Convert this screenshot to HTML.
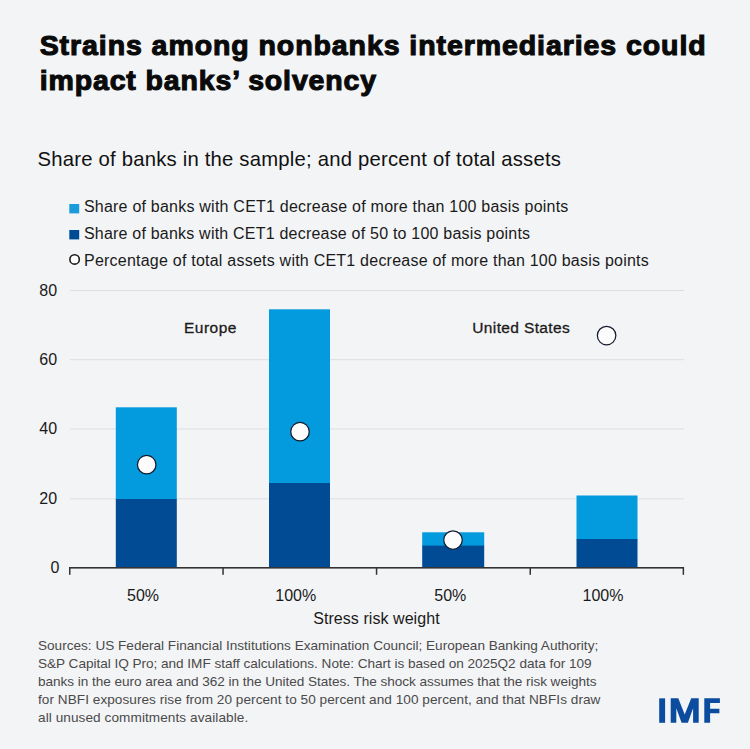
<!DOCTYPE html>
<html>
<head>
<meta charset="utf-8">
<title>IMF Chart</title>
<style>
html,body{margin:0;padding:0;}
body{width:750px;height:749px;background:#f3f4f6;position:relative;overflow:hidden;font-family:"Liberation Sans",sans-serif;color:#111;}
.t{position:absolute;white-space:nowrap;transform-origin:0 0;line-height:1;}
.title{font-weight:bold;font-size:28.5px;color:#0a0a0a;left:39.7px;-webkit-text-stroke:1.1px #0a0a0a;}
.sub{font-size:20.3px;left:37.5px;top:149px;color:#111;}
.leg{font-size:16px;left:83.9px;color:#1a1a1a;}
.ax{font-size:16px;color:#1a1a1a;}
.src{font-size:13.6px;left:38px;color:#4a4a4a;}
</style>
</head>
<body>
<!-- shapes -->
<svg id="shapes" style="position:absolute;left:0;top:0;" width="750" height="749" viewBox="0 0 750 749">
<!-- legend markers -->
<rect x="69.3" y="204" width="9.9" height="9.4" fill="#1a9cdc"/>
<rect x="69.3" y="230" width="9.9" height="9.4" fill="#014b95"/>
<circle cx="74.6" cy="259.4" r="4.7" fill="#fff" stroke="#1a1a1a" stroke-width="1.6"/>
<!-- gridlines -->
<g fill="#dcdee2">
<rect x="70" y="290" width="614" height="1"/>
<rect x="70" y="359.2" width="614" height="1"/>
<rect x="70" y="428.5" width="614" height="1"/>
<rect x="70" y="498.3" width="614" height="1"/>
</g>
<!-- bars -->
<g fill="#039ade">
<rect x="115.8" y="407.3" width="61" height="92"/>
<rect x="269" y="309.3" width="61" height="174"/>
<rect x="422.2" y="532.3" width="62" height="14"/>
<rect x="576.5" y="495.5" width="61" height="44"/>
</g>
<g fill="#014b95">
<rect x="115.8" y="499" width="61" height="69"/>
<rect x="269" y="483" width="61" height="85"/>
<rect x="422.2" y="545.6" width="62" height="22.4"/>
<rect x="576.5" y="539" width="61" height="29"/>
</g>
<!-- axis -->
<g fill="#333">
<rect x="69" y="567" width="615" height="1.6"/>
<rect x="69" y="567" width="1.5" height="7.8"/>
<rect x="222.3" y="567" width="1.5" height="7.8"/>
<rect x="375.8" y="567" width="1.5" height="7.8"/>
<rect x="529.5" y="567" width="1.5" height="7.8"/>
<rect x="682.6" y="567" width="1.5" height="7.8"/>
</g>
<!-- dots -->
<g fill="#fdfdfd" stroke="#141c2e" stroke-width="1.25">
<circle cx="146.7" cy="464.7" r="9.25"/>
<circle cx="300" cy="431.7" r="9.25"/>
<circle cx="453" cy="540" r="9.25"/>
<circle cx="606.6" cy="335.6" r="9.25"/>
</g>
<!-- IMF logo -->
<g fill="#0c4c9f" transform="translate(655 692)">
<rect x="4.2" y="6.35" width="5.9" height="24.45"/>
<polygon points="15.7,30.8 15.7,6.35 23.3,6.35 29.7,22.4 36.2,6.35 43.7,6.35 43.7,30.8 38.1,30.8 38.1,16.3 32.9,30.8 26.6,30.8 21.3,16.3 21.3,30.8"/>
<path d="M49.3 6.35 H64.9 V11 H55.1 V16.8 H64.4 V21.3 H55.1 V30.8 H49.3 Z"/>
</g>
</svg>
<div class="t title" id="t1" style="letter-spacing:0.925px;top:31.3px;">Strains among nonbanks intermediaries could</div>
<div class="t title" id="t2" style="letter-spacing:0.86px;top:66.3px;">impact banks’ solvency</div>

<div class="t sub" id="sub" style="letter-spacing:0.207px;">Share of banks in the sample; and percent of total assets</div>

<div class="t leg" id="l1" style="letter-spacing:0.225px;top:199.3px;">Share of banks with CET1 decrease of more than 100 basis points</div>
<div class="t leg" id="l2" style="letter-spacing:0.21px;top:226px;">Share of banks with CET1 decrease of 50 to 100 basis points</div>
<div class="t leg" id="l3" style="letter-spacing:0.228px;top:253.2px;left:84px;">Percentage of total assets with CET1 decrease of more than 100 basis points</div>

<!-- y labels -->
<div class="t ax" id="y80" style="left:39.3px;top:282.6px;">80</div>
<div class="t ax" id="y60" style="left:39.3px;top:351.8px;">60</div>
<div class="t ax" id="y40" style="left:39.3px;top:421.2px;">40</div>
<div class="t ax" id="y20" style="left:39.3px;top:491px;">20</div>
<div class="t ax" id="y0" style="left:50.4px;top:559.6px;">0</div>

<!-- region labels -->
<div class="t ax" id="eu" style="left:184px;top:320.2px;font-size:15.5px;letter-spacing:0.5px;-webkit-text-stroke:0.3px #1a1a1a;">Europe</div>
<div class="t ax" id="us" style="left:472.3px;top:320.2px;font-size:15.5px;letter-spacing:0.36px;-webkit-text-stroke:0.3px #1a1a1a;">United States</div>

<!-- x labels -->
<div class="t ax" id="x1" style="left:127px;top:587.7px;">50%</div>
<div class="t ax" id="x2" style="left:275.3px;top:587.7px;">100%</div>
<div class="t ax" id="x3" style="left:434.3px;top:587.7px;">50%</div>
<div class="t ax" id="x4" style="left:582.5px;top:587.7px;">100%</div>
<div class="t ax" id="xt" style="left:313.2px;top:610.7px;letter-spacing:0.06px;">Stress risk weight</div>

<!-- sources -->
<div class="t src" id="s1" style="letter-spacing:-0.005px;top:639px;">Sources: US Federal Financial Institutions Examination Council; European Banking Authority;</div>
<div class="t src" id="s2" style="letter-spacing:-0.031px;top:657px;">S&amp;P Capital IQ Pro; and IMF staff calculations. Note: Chart is based on 2025Q2 data for 109</div>
<div class="t src" id="s3" style="letter-spacing:-0.047px;top:675px;">banks in the euro area and 362 in the United States. The shock assumes that the risk weights</div>
<div class="t src" id="s4" style="letter-spacing:0.045px;top:693.1px;">for NBFI exposures rise from 20 percent to 50 percent and 100 percent, and that NBFIs draw</div>
<div class="t src" id="s5" style="letter-spacing:0.075px;top:711.3px;">all unused commitments available.</div>

</body>
</html>
